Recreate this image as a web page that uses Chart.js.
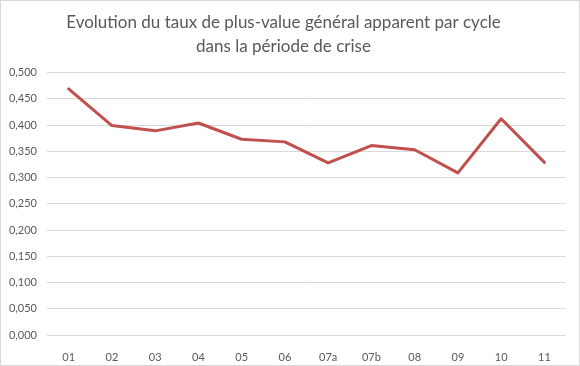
<!DOCTYPE html>
<html>
<head>
<meta charset="utf-8">
<script src="https://cdn.jsdelivr.net/npm/chart.js@4/dist/chart.umd.min.js"></script>
<style>
  html, body { margin: 0; padding: 0; background: #fff; }
  #box {
    box-sizing: border-box;
    width: 580px; height: 366px;
    border: 1px solid #d9d9d9;
    background: #fff;
  }
  #chart { display: block; }
</style>
</head>
<body>
<div id="box"><canvas id="chart" width="578" height="364"></canvas></div>
<script>
// Taux de plus-value général apparent par cycle
const cycles = ['01', '02', '03', '04', '05', '06', '07a', '07b', '08', '09', '10', '11'];
const tauxPlusValue = [0.469, 0.399, 0.389, 0.404, 0.373, 0.368, 0.328, 0.361, 0.353, 0.309, 0.412, 0.329];

const titleLines = ['Evolution du taux de plus-value général apparent par cycle', 'dans la période de crise'];

const axisGray = '#595959';
const gridGray = '#d9d9d9';

const ctx = document.getElementById('chart').getContext('2d');

new Chart(ctx, {
    type: 'line',
    data: {
        labels: cycles,
        datasets: [{
            label: 'Taux de plus-value',
            data: tauxPlusValue,
            borderColor: '#c0504d',
            backgroundColor: '#c0504d',
            borderWidth: 3,
            pointRadius: 0,
            borderCapStyle: 'round',
            borderJoinStyle: 'round',
            fill: false,
            tension: 0
        }]
    },
    options: {
        responsive: false,
        animation: false,
        layout: { padding: { left: 0, right: 13, top: 0, bottom: 0 } },
        scales: {
            x: {
                offset: true,
                grid: { display: false },
                border: { display: false },
                ticks: {
                    color: axisGray,
                    font: { family: 'Lato', size: 11 },
                    padding: 8,
                    maxRotation: 0
                },
                afterFit: scale => { scale.height = 30; }
            },
            y: {
                min: 0,
                max: 0.5,
                grid: { color: gridGray, drawTicks: false },
                border: { display: false },
                ticks: {
                    stepSize: 0.05,
                    color: axisGray,
                    font: { family: 'Lato', size: 11 },
                    padding: 10,
                    callback: v => v.toFixed(3).replace('.', ',')
                },
                afterFit: scale => { scale.width = 46; }
            }
        },
        plugins: {
            legend: { display: false },
            tooltip: { enabled: false },
            title: {
                display: true,
                text: titleLines,
                color: axisGray,
                font: { family: 'Lato', size: 17, weight: 'normal', lineHeight: 1.4 },
                padding: { top: 10, bottom: 14 }
            }
        }
    }
});
</script>
</body>
</html>
